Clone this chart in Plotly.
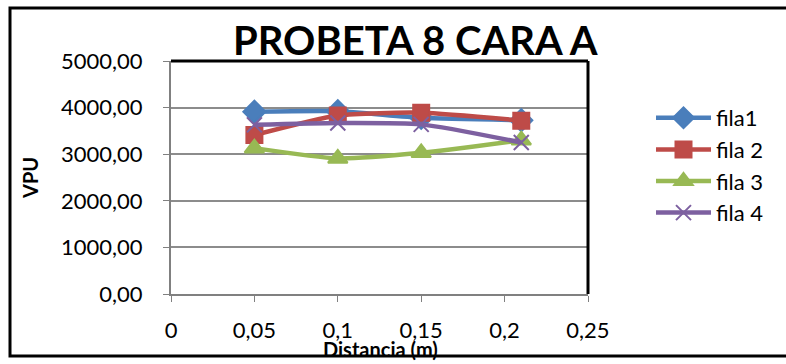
import plotly.graph_objects as go

x_vals = [0.05, 0.10, 0.15, 0.21]
fila1 = [3910, 3920, 3780, 3730]
fila2 = [3410, 3830, 3890, 3720]
fila3 = [3130, 2910, 3030, 3300]
fila4 = [3630, 3670, 3640, 3250]

series = [
    ("fila1", fila1, "#4A7EBB", "diamond", 17),
    ("fila 2", fila2, "#BE4B48", "square", 16),
    ("fila 3", fila3, "#98B954", "triangle-up", 17),
    ("fila 4", fila4, "#7D60A0", "x-thin", 15),
]

x_ticks = [0, 0.05, 0.1, 0.15, 0.2, 0.25]
x_ticktext = ["0", "0,05", "0,1", "0,15", "0,2", "0,25"]
y_ticks = [0, 1000, 2000, 3000, 4000, 5000]
y_ticktext = ["0,00", "1000,00", "2000,00", "3000,00", "4000,00", "5000,00"]

fig = go.Figure()
for name, vals, col, sym, sz in series:
    fig.add_trace(go.Scatter(
        x=x_vals, y=vals, name=name, mode="lines+markers", legendgroup=name,
        line=dict(color=col, width=4.5, shape="spline", smoothing=0.6),
        marker=dict(symbol=sym, size=sz, color=col,
                    line=dict(color=col, width=2)),
    ))

L, R, T, B = 171, 198, 61, 70
W, H = 786, 364
pw, ph = W - L - R, H - T - B

def px(xp):
    return (xp - L) / pw

def py(yp):
    return (H - B - yp) / ph

font = "Lato, Open Sans, sans-serif"

fig.update_layout(
    width=W, height=H,
    margin=dict(l=L, r=R, t=T, b=B),
    paper_bgcolor="white", plot_bgcolor="white",
    showlegend=True,
    legend=dict(x=px(651), y=py(97), xanchor="left", yanchor="top",
                font=dict(family=font, size=22, color="black"),
                tracegroupgap=0, itemwidth=55, bgcolor="rgba(0,0,0,0)"),
    xaxis=dict(range=[0, 0.25], tickvals=x_ticks, ticktext=x_ticktext,
               showgrid=False, zeroline=False, showline=True,
               linecolor="#808080", linewidth=2,
               ticks="outside", ticklen=6, tickcolor="#808080", tickwidth=1,
               ticklabelstandoff=10,
               tickfont=dict(family=font, size=22, color="black")),
    yaxis=dict(range=[0, 5000], tickvals=y_ticks, ticktext=y_ticktext,
               showgrid=True, gridcolor="#8c8c8c", gridwidth=1.5,
               zeroline=False, showline=True,
               linecolor="#808080", linewidth=2,
               ticks="outside", ticklen=6, tickcolor="#808080", tickwidth=1,
               ticklabelstandoff=16,
               tickfont=dict(family=font, size=22, color="black")),
    font=dict(family=font, color="black"),
)

fig.add_annotation(text="<b>PROBETA 8 CARA A</b>", xref="paper", yref="paper",
                   x=px(415), y=py(40), showarrow=False,
                   xanchor="center", yanchor="middle",
                   font=dict(family="Lato, sans-serif", size=40, color="black"))
fig.add_annotation(text="<b>VPU</b>", xref="paper", yref="paper",
                   x=px(30), y=py(178), showarrow=False, textangle=-90,
                   xanchor="center", yanchor="middle",
                   font=dict(family=font, size=20, color="black"))
fig.add_annotation(text="<b>Distancia (m)</b>", xref="paper", yref="paper",
                   x=px(380), y=py(349), showarrow=False,
                   xanchor="center", yanchor="middle",
                   font=dict(family=font, size=20, color="black"))

# plot area border (black, top & right)
fig.add_shape(type="line", xref="paper", yref="paper", x0=0, x1=1, y0=1, y1=1,
              line=dict(color="black", width=3))
fig.add_shape(type="line", xref="paper", yref="paper", x0=1, x1=1, y0=0, y1=1,
              line=dict(color="black", width=3))
# outer chart border
fig.add_shape(type="rect", xref="paper", yref="paper",
              x0=px(10), x1=px(800), y0=py(356), y1=py(8),
              line=dict(color="black", width=3), layer="above")

fig.write_html("out.html")
